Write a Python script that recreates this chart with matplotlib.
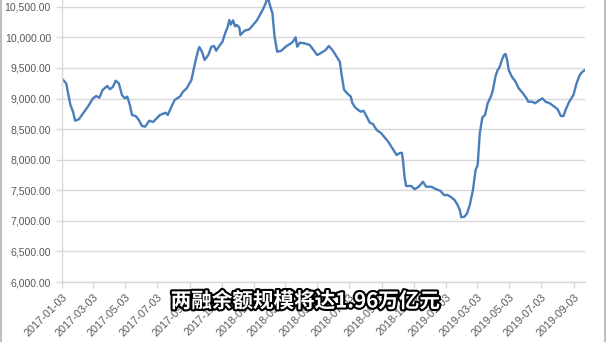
import matplotlib
matplotlib.use('Agg')
import matplotlib.pyplot as plt
import matplotlib.patheffects as pe
from matplotlib.lines import Line2D
from matplotlib.ticker import FuncFormatter
import pandas as pd

# margin balance (亿元)
dates = [
    '2017-01-04', '2017-01-11', '2017-01-14', '2017-01-19', '2017-01-24', '2017-01-28',
    '2017-02-04', '2017-02-12', '2017-02-22', '2017-03-03', '2017-03-09', '2017-03-15',
    '2017-03-21', '2017-03-30', '2017-04-04', '2017-04-10', '2017-04-15', '2017-04-21',
    '2017-04-27', '2017-05-02', '2017-05-07', '2017-05-12', '2017-05-16', '2017-05-23',
    '2017-05-29', '2017-06-04', '2017-06-10', '2017-06-18', '2017-06-25', '2017-07-08',
    '2017-07-19', '2017-07-23', '2017-07-30', '2017-08-05', '2017-08-15', '2017-08-21',
    '2017-08-28', '2017-09-06', '2017-09-12', '2017-09-18', '2017-09-21', '2017-09-26',
    '2017-10-01', '2017-10-08', '2017-10-14', '2017-10-19', '2017-10-23', '2017-10-28',
    '2017-11-04', '2017-11-09', '2017-11-14', '2017-11-17', '2017-11-20', '2017-11-24',
    '2017-11-28', '2017-12-01', '2017-12-06', '2017-12-08', '2017-12-16', '2017-12-25',
    '2018-01-01', '2018-01-08', '2018-01-14', '2018-01-20', '2018-01-25', '2018-01-29',
    '2018-02-03', '2018-02-07', '2018-02-11', '2018-02-16', '2018-02-24', '2018-03-04',
    '2018-03-12', '2018-03-18', '2018-03-23', '2018-03-26', '2018-03-31', '2018-04-09',
    '2018-04-19', '2018-04-25', '2018-05-03', '2018-05-11', '2018-05-19', '2018-05-25',
    '2018-06-01', '2018-06-09', '2018-06-15', '2018-06-18', '2018-06-23', '2018-06-29',
    '2018-07-06', '2018-07-09', '2018-07-14', '2018-07-20', '2018-07-25', '2018-07-30',
    '2018-08-05', '2018-08-11', '2018-08-17', '2018-08-24', '2018-09-02', '2018-09-08',
    '2018-09-15', '2018-09-21', '2018-09-25', '2018-10-01', '2018-10-06', '2018-10-11',
    '2018-10-13', '2018-10-16', '2018-10-19', '2018-10-29', '2018-11-04', '2018-11-12',
    '2018-11-20', '2018-11-26', '2018-12-06', '2018-12-15', '2018-12-23', '2018-12-30',
    '2019-01-06', '2019-01-13', '2019-01-19', '2019-01-24', '2019-01-29', '2019-02-01',
    '2019-02-07', '2019-02-12', '2019-02-17', '2019-02-23', '2019-02-28', '2019-03-04',
    '2019-03-08', '2019-03-13', '2019-03-18', '2019-03-23', '2019-03-29', '2019-04-02',
    '2019-04-07', '2019-04-11', '2019-04-15', '2019-04-19', '2019-04-23', '2019-04-26',
    '2019-04-29', '2019-05-02', '2019-05-08', '2019-05-15', '2019-05-21', '2019-05-29',
    '2019-06-05', '2019-06-08', '2019-06-16', '2019-06-21', '2019-06-27', '2019-07-05',
    '2019-07-11', '2019-07-19', '2019-07-28', '2019-08-03', '2019-08-09', '2019-08-14',
    '2019-08-18', '2019-08-25', '2019-09-02', '2019-09-08', '2019-09-14', '2019-09-19',
    '2019-09-24',
]
balance = [
    9314, 9249, 9111, 8894, 8784, 8637,
    8660, 8758, 8878, 9003, 9041, 9013,
    9139, 9205, 9151, 9193, 9291, 9249,
    9057, 9003, 9030, 8894, 8730, 8714,
    8649, 8551, 8539, 8637, 8616, 8730,
    8768, 8730, 8866, 8976, 9030, 9111,
    9167, 9303, 9548, 9765, 9842, 9765,
    9630, 9711, 9847, 9859, 9782, 9847,
    9929, 10066, 10174, 10284, 10210, 10279,
    10181, 10202, 10164, 10038, 10109, 10132,
    10202, 10272, 10365, 10459, 10557, 10660,
    10501, 10393, 10011, 9765, 9782, 9847,
    9891, 9929, 10001, 9847, 9913, 9903,
    9875, 9805, 9711, 9749, 9793, 9859,
    9793, 9684, 9602, 9412, 9144, 9085,
    9030, 8922, 8856, 8812, 8784, 8801,
    8706, 8605, 8583, 8485, 8431, 8366,
    8294, 8212, 8158, 8076, 8104, 8114,
    7995, 7722, 7570, 7570, 7516, 7558,
    7640, 7558, 7558, 7516, 7493, 7422,
    7422, 7385, 7341, 7275, 7177, 7058,
    7068, 7123, 7259, 7504, 7831, 7913,
    8431, 8693, 8730, 8922, 9030, 9139,
    9368, 9466, 9520, 9630, 9711, 9728,
    9630, 9466, 9357, 9275, 9167, 9085,
    9003, 8948, 8948, 8922, 8959, 9003,
    8948, 8922, 8866, 8824, 8714, 8714,
    8812, 8948, 9057, 9249, 9384, 9438,
    9466,
]

tick_labels = [
    '2017-01-03', '2017-03-03', '2017-05-03', '2017-07-03', '2017-09-03', '2017-11-03',
    '2018-01-03', '2018-03-03', '2018-05-03', '2018-07-03', '2018-09-03', '2018-11-03',
    '2019-01-03', '2019-03-03', '2019-05-03', '2019-07-03', '2019-09-03',
]
y_ticks = [6000, 6500, 7000, 7500, 8000, 8500, 9000, 9500, 10000, 10500]
caption = '两融余额规模将达1.96万亿元'

grey = '#595959'
grid_grey = '#d9d9d9'

fig = plt.figure(figsize=(6.08, 3.42), dpi=100)
ax = fig.add_axes([62 / 608, 1 - 282 / 342, 523 / 608, 282 / 342])

x = pd.to_datetime(dates)
ax.plot(x, balance, color='#4a7ebb', linewidth=1.7, solid_joinstyle='round')

ax.set_xlim(pd.Timestamp('2017-01-03'), pd.Timestamp('2019-09-24'))
ax.set_ylim(6000, 10611)

ax.set_xticks(pd.to_datetime(tick_labels))
ax.set_xticklabels(tick_labels, rotation=45, ha='right', va='top',
                   rotation_mode='anchor', fontsize=7.8, color=grey,
                   family='Liberation Sans')
ax.set_yticks(y_ticks)
ax.yaxis.set_major_formatter(FuncFormatter(lambda v, p: f'{v:,.2f}'))
for lab in ax.get_yticklabels():
    lab.set_fontsize(7.6)
    lab.set_color(grey)
    lab.set_family('Liberation Sans')

ax.grid(axis='y', color=grid_grey, linewidth=1)
ax.set_axisbelow(True)
for side in ['top', 'right']:
    ax.spines[side].set_visible(False)
for side in ['left', 'bottom']:
    ax.spines[side].set_color(grid_grey)
    ax.spines[side].set_linewidth(1)
ax.tick_params(axis='both', color=grid_grey, length=4, width=1)
ax.tick_params(axis='x', pad=3)
ax.tick_params(axis='y', pad=4)

# chart frame edges
fig.add_artist(Line2D([1 / 608, 1 / 608], [0, 1], color='#bfbfbf', linewidth=1.5))
fig.add_artist(Line2D([605 / 608, 605 / 608], [0, 1], color='#bfbfbf', linewidth=1.5))

fig.text(305 / 608, 1 - 301 / 342, caption, ha='center', va='center',
         fontsize=14.8, color='white', fontweight='bold',
         family=['Noto Sans CJK SC', 'DejaVu Sans'],
         path_effects=[pe.withStroke(linewidth=3, foreground='black')])

fig.savefig('out.png', dpi=100)
